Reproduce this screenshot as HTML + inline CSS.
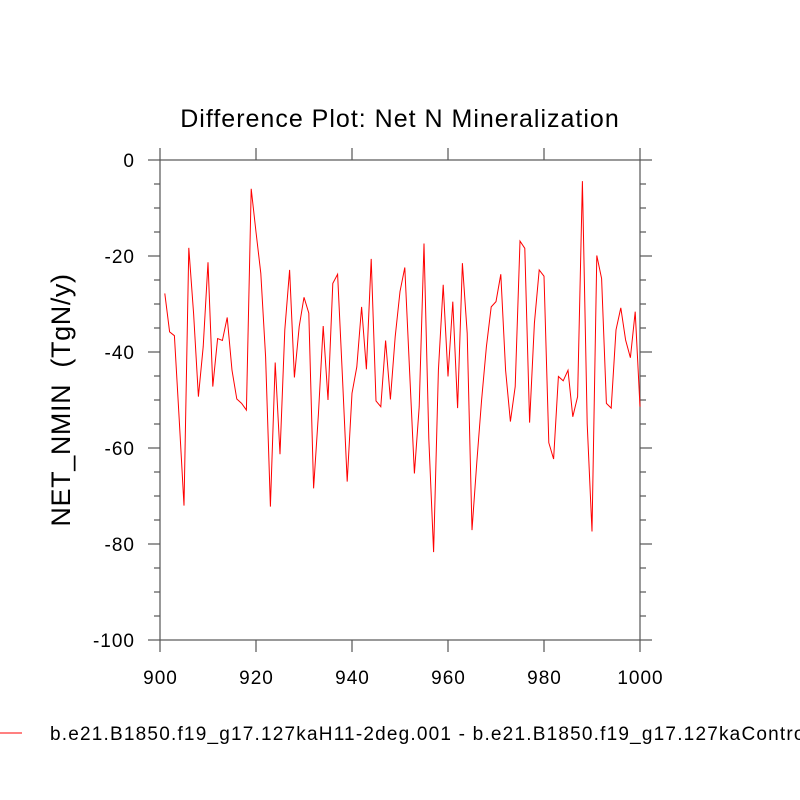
<!DOCTYPE html>
<html><head><meta charset="utf-8">
<style>
html,body{margin:0;padding:0;background:#fff;overflow:hidden;}
svg{display:block;font-family:"Liberation Sans",Arial,sans-serif;}
</style></head>
<body>
<svg id="chart" width="800" height="800" viewBox="0 0 800 800" xmlns="http://www.w3.org/2000/svg">
<text x="400" y="127" font-size="25" letter-spacing="1" text-anchor="middle" fill="#000">Difference Plot: Net N Mineralization</text>
<text transform="translate(70,400) rotate(-90)" font-size="27" letter-spacing="0.6" text-anchor="middle" fill="#000" style="white-space:pre">NET_NMIN  (TgN/y)</text>
<g id="axes"></g>
<g id="series"></g>
<line x1="0" y1="733" x2="22" y2="733" stroke="#f00" stroke-width="1"/>
<text x="50" y="740" font-size="19" letter-spacing="1.2" fill="#000">b.e21.B1850.f19_g17.127kaH11-2deg.001 - b.e21.B1850.f19_g17.127kaControl</text>
</svg>
<script>
const years = [];
for (let y = 901; y <= 1000; y++) years.push(y);
const values = [-27.8,-35.8,-36.6,-54,-72.0,-18.3,-32,-49.3,-38.9,-21.3,
-47.2,-37.2,-37.6,-32.8,-43.8,-49.8,-50.7,-52.1,-6.0,-15,
-23.6,-41,-72.2,-42.2,-61.3,-35.4,-22.9,-45.3,-34.7,-28.6,
-31.9,-68.4,-53,-34.6,-50,-25.7,-23.8,-45,-67,-48.6,
-43.1,-30.6,-43.6,-20.6,-50.2,-51.4,-37.6,-49.9,-36.8,-27.4,
-22.4,-44,-65.3,-51.4,-17.4,-58,-81.7,-43.8,-26,-45.1,
-29.5,-51.7,-21.5,-36.1,-77.1,-63,-50,-38.9,-30.6,-29.5,
-23.8,-43.8,-54.5,-47.2,-16.9,-18.4,-54.7,-34,-22.9,-24.2,
-58.9,-62.3,-45.1,-46,-43.8,-53.5,-49.3,-4.4,-55,-77.4,
-19.9,-24.7,-50.7,-51.7,-35.4,-30.8,-37.5,-41.2,-31.6,-51.4];
const xTicks = [900,920,940,960,980,1000];
const yTicks = [0,-20,-40,-60,-80,-100];
const yMinor = [];
for (let v = 0; v >= -100; v -= 5) yMinor.push(v);

const X0=160,X1=640,Y0=160,Y1=640;
const xs = v => X0 + (v-900)/(100)*(X1-X0);
const ys = v => Y0 + (0-v)/(100)*(Y1-Y0);
const NS="http://www.w3.org/2000/svg";
const axes=document.getElementById('axes');
function mk(tag,attrs,parent){const e=document.createElementNS(NS,tag);for(const k in attrs)e.setAttribute(k,attrs[k]);parent.appendChild(e);return e;}
const frame=mk('rect',{x:X0,y:Y0,width:X1-X0,height:Y1-Y0,fill:'none',stroke:'#555','stroke-width':1.2},axes);


const col='#555';
yMinor.forEach(v=>{
  const major = yTicks.includes(v);
  const L = major?12:6;
  const y=ys(v);
  const a=mk('line',{x1:X0-L,y1:y,x2:X0,y2:y,stroke:col,'stroke-width':1.2},axes);
  
  
  const b=mk('line',{x1:X1,y1:y,x2:X1+L,y2:y,stroke:col,'stroke-width':1.2},axes);
  
  
});
yTicks.forEach(v=>{
  const t=mk('text',{x:X0-25,y:ys(v)+7,'font-size':19,'letter-spacing':1,'text-anchor':'end',fill:'#000'},axes);
  t.textContent=String(v);
  
  
});
xTicks.forEach(v=>{
  const x=xs(v);
  const a=mk('line',{x1:x,y1:Y1,x2:x,y2:Y1+12,stroke:col,'stroke-width':1.2},axes);
  
  
  const b=mk('line',{x1:x,y1:Y0-12,x2:x,y2:Y0,stroke:col,'stroke-width':1.2},axes);
  
  
  const t=mk('text',{x:x+0.5,y:684,'font-size':19,'letter-spacing':1,'text-anchor':'middle',fill:'#000'},axes);
  t.textContent=String(v);
  
  
});
const pts=years.map((yr,i)=>xs(yr).toFixed(2)+','+ys(values[i]).toFixed(2)).join(' ');
const line=mk('polyline',{points:pts,fill:'none',stroke:'#f00','stroke-width':1},document.getElementById('series'));


</script>
</body></html>
